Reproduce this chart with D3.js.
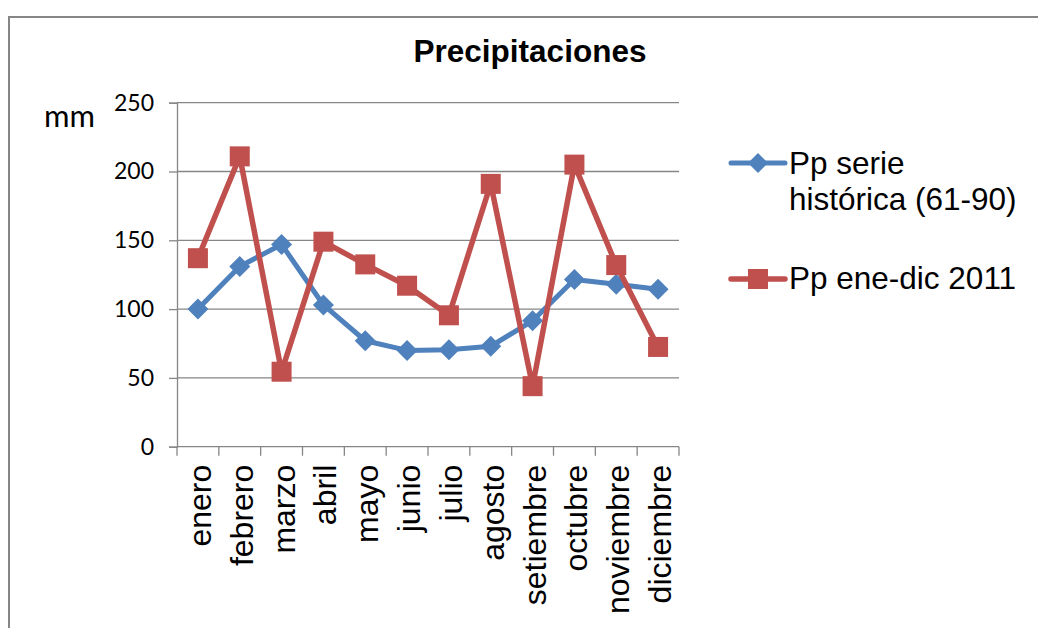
<!DOCTYPE html>
<html>
<head>
<meta charset="utf-8">
<script src="https://cdn.jsdelivr.net/npm/d3@7"></script>
<style>
  html, body { margin: 0; padding: 0; background: #fff; }
  svg { display: block; }
</style>
</head>
<body>
<svg id="chart" width="1038" height="628"></svg>
<script>
const months = ["enero","febrero","marzo","abril","mayo","junio","julio","agosto","setiembre","octubre","noviembre","diciembre"];
const historica = [100, 131, 147, 103, 77, 70, 70.5, 73, 91.5, 121.5, 118, 114.5];
const anio2011 = [137, 211, 54.5, 149, 132.5, 117, 95.5, 191, 44, 205, 132, 72.5];
const yTicks = [0, 50, 100, 150, 200, 250];
const seriesNames = ["Pp serie histórica (61-90)", "Pp ene-dic 2011"];
const colors = ["#4f81bd", "#c0504d"];

const svg = d3.select("#chart");
const plot = { left: 177, right: 679, top: 102.7, bottom: 446.7 };

// outer border
svg.append("rect").attr("x", 9).attr("y", 17).attr("width", 1100).attr("height", 700)
  .attr("fill", "none").attr("stroke", "#868686").attr("stroke-width", 2);

// title
svg.append("text").attr("x", 530).attr("y", 62).attr("text-anchor", "middle")
  .attr("font-family", "Liberation Sans, Arial, sans-serif").attr("font-weight", "bold")
  .attr("font-size", 31.5).attr("fill", "#000").text("Precipitaciones");

const x = d3.scaleBand().domain(months).range([plot.left, plot.right]).padding(0);
const y = d3.scaleLinear().domain([0, 250]).range([plot.bottom, plot.top]);

// gridlines
svg.append("g").selectAll("line").data(yTicks.filter(d => d > 0)).join("line")
  .attr("x1", plot.left).attr("x2", plot.right)
  .attr("y1", d => y(d)).attr("y2", d => y(d))
  .attr("stroke", "#868686").attr("stroke-width", 1.3);

// y axis
const yAxis = d3.axisLeft(y).tickValues(yTicks).tickSize(8).tickPadding(15);
const gy = svg.append("g").attr("transform", `translate(${plot.left},0)`).call(yAxis);
gy.select(".domain").attr("stroke", "#868686").attr("stroke-width", 1.3);
gy.selectAll(".tick line").attr("stroke", "#868686").attr("stroke-width", 1.3);
gy.selectAll(".tick text").attr("font-family", "Lato, Liberation Sans, sans-serif")
  .attr("font-size", 23).attr("fill", "#000");

// x axis
const gx = svg.append("g").attr("transform", `translate(0,${plot.bottom})`);
gx.append("line").attr("x1", plot.left).attr("x2", plot.right)
  .attr("stroke", "#868686").attr("stroke-width", 1.3);
const boundaries = months.map(m => x(m)).concat([plot.right]);
gx.selectAll("line.tk").data(boundaries).join("line").attr("class", "tk")
  .attr("x1", d => d).attr("x2", d => d).attr("y1", 0).attr("y2", 9)
  .attr("stroke", "#868686").attr("stroke-width", 1.3);
gx.selectAll("text").data(months).join("text")
  .attr("transform", d => `translate(${x(d) + x.bandwidth() / 2 + 13},18) rotate(-90)`)
  .attr("text-anchor", "end")
  .attr("font-family", "Liberation Sans, Arial, sans-serif")
  .attr("font-size", 32).attr("fill", "#000").text(d => d);

// y axis label
svg.append("text").attr("x", 44).attr("y", 127)
  .attr("font-family", "Lato, Liberation Sans, sans-serif")
  .attr("font-size", 31).attr("fill", "#000").text("mm");

const cx = d => x(d) + x.bandwidth() / 2;
const line = d3.line().x(d => cx(d.m)).y(d => y(d.v));

const data = [historica, anio2011].map(arr => arr.map((v, i) => ({ m: months[i], v })));

// series 1: blue diamonds
svg.append("path").datum(data[0]).attr("d", line).attr("fill", "none")
  .attr("stroke", colors[0]).attr("stroke-width", 5).attr("stroke-linejoin", "round");
const diamond = s => `M0,${-s}L${s},0L0,${s}L${-s},0Z`;
svg.append("g").selectAll("path").data(data[0]).join("path")
  .attr("transform", d => `translate(${cx(d.m)},${y(d.v)})`)
  .attr("d", diamond(10.5)).attr("fill", colors[0]);

// series 2: red squares
svg.append("path").datum(data[1]).attr("d", line).attr("fill", "none")
  .attr("stroke", colors[1]).attr("stroke-width", 5.5).attr("stroke-linejoin", "round");
svg.append("g").selectAll("rect").data(data[1]).join("rect")
  .attr("x", d => cx(d.m) - 10).attr("y", d => y(d.v) - 10)
  .attr("width", 20).attr("height", 20).attr("fill", colors[1]);

// legend
const lg = svg.append("g").attr("font-family", "Liberation Sans, Arial, sans-serif")
  .attr("font-size", 31.5).attr("fill", "#000");
// item 1
lg.append("line").attr("x1", 731).attr("x2", 785).attr("y1", 163).attr("y2", 163)
  .attr("stroke", colors[0]).attr("stroke-width", 5).attr("stroke-linecap", "round");
lg.append("path").attr("transform", "translate(758,163)").attr("d", diamond(10)).attr("fill", colors[0]);
const t1 = lg.append("text").attr("x", 789).attr("y", 174);
t1.append("tspan").attr("x", 789).text("Pp serie");
t1.append("tspan").attr("x", 789).attr("dy", 36).text("histórica (61-90)");
// item 2
lg.append("line").attr("x1", 731).attr("x2", 785).attr("y1", 279).attr("y2", 279)
  .attr("stroke", colors[1]).attr("stroke-width", 5.5).attr("stroke-linecap", "round");
lg.append("rect").attr("x", 748).attr("y", 269).attr("width", 20).attr("height", 20).attr("fill", colors[1]);
lg.append("text").attr("x", 789).attr("y", 289).text("Pp ene-dic 2011");
</script>
</body>
</html>
